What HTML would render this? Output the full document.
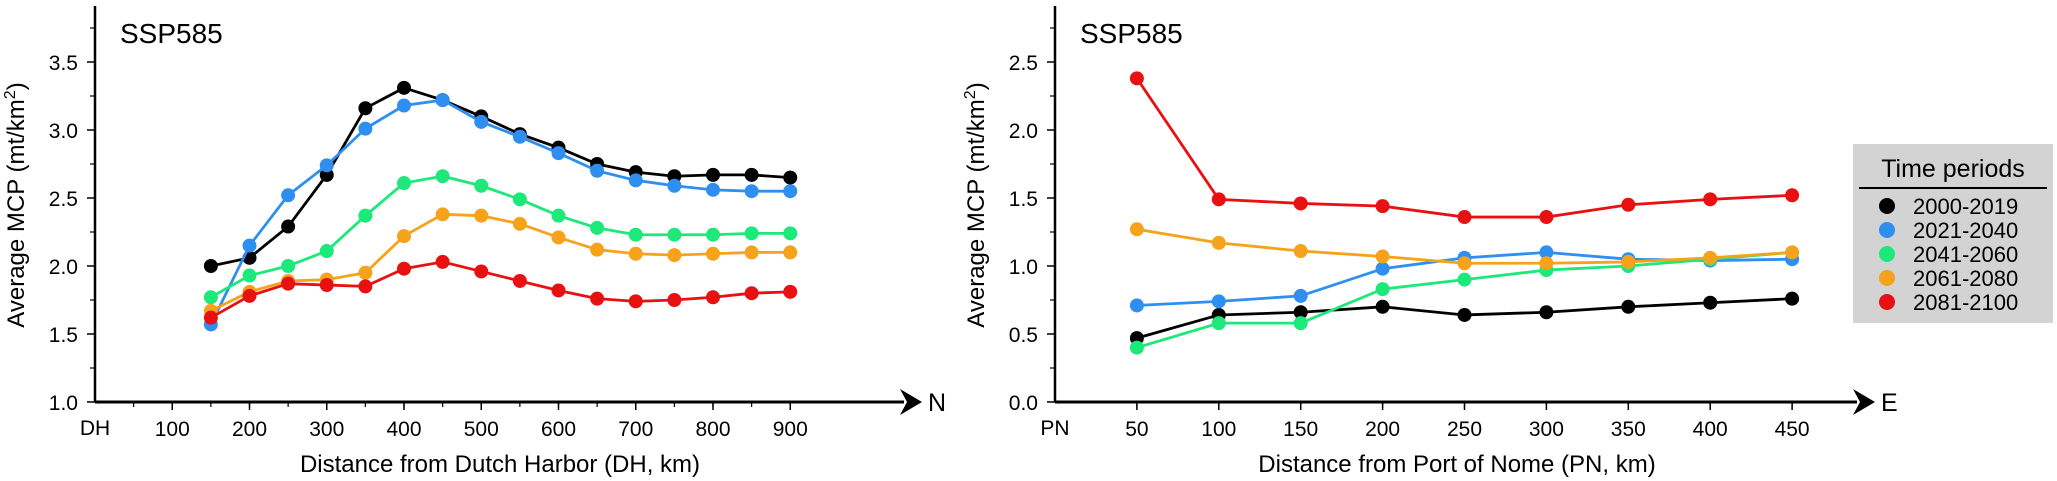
<!DOCTYPE html>
<html><head><meta charset="utf-8"><style>
html,body{margin:0;padding:0;background:#fff;}
svg{display:block;font-family:"Liberation Sans",sans-serif;}
</style></head><body>
<svg id="chart" width="2057" height="481" viewBox="0 0 2057 481"></svg>
<script>
const seriesNames = ["2000-2019","2021-2040","2041-2060","2061-2080","2081-2100"];
const seriesColors = ["#000000","#2e8ff0","#1de87a","#f6a21a","#e81010"];
const leftX = [150,200,250,300,350,400,450,500,550,600,650,700,750,800,850,900];
const left2000 = [2.0,2.06,2.29,2.67,3.16,3.31,3.22,3.1,2.97,2.87,2.75,2.69,2.66,2.67,2.67,2.65];
const left2021 = [1.57,2.15,2.52,2.74,3.01,3.18,3.22,3.06,2.95,2.83,2.70,2.63,2.59,2.56,2.55,2.55];
const left2041 = [1.77,1.93,2.0,2.11,2.37,2.61,2.66,2.59,2.49,2.37,2.28,2.23,2.23,2.23,2.24,2.24];
const left2061 = [1.67,1.81,1.89,1.90,1.95,2.22,2.38,2.37,2.31,2.21,2.12,2.09,2.08,2.09,2.10,2.10];
const left2081 = [1.62,1.78,1.87,1.86,1.85,1.98,2.03,1.96,1.89,1.82,1.76,1.74,1.75,1.77,1.80,1.81];
const leftXTicks = [100,200,300,400,500,600,700,800,900];
const leftYTicks = [1.0,1.5,2.0,2.5,3.0,3.5];
const rightX = [50,100,150,200,250,300,350,400,450];
const right2000 = [0.47,0.64,0.66,0.70,0.64,0.66,0.70,0.73,0.76];
const right2021 = [0.71,0.74,0.78,0.98,1.06,1.10,1.05,1.04,1.05];
const right2041 = [0.40,0.58,0.58,0.83,0.90,0.97,1.00,1.05,1.10];
const right2061 = [1.27,1.17,1.11,1.07,1.02,1.02,1.03,1.06,1.10];
const right2081 = [2.38,1.49,1.46,1.44,1.36,1.36,1.45,1.49,1.52];
const rightXTicks = [50,100,150,200,250,300,350,400,450];
const rightYTicks = [0.0,0.5,1.0,1.5,2.0,2.5];

const NS="http://www.w3.org/2000/svg";
const svg=document.getElementById('chart');
function mk(tag,attrs,parent,text){const e=document.createElementNS(NS,tag);for(const k in attrs)e.setAttribute(k,attrs[k]);if(text!==undefined)e.textContent=text;(parent||svg).appendChild(e);return e;}

function panel(cfg){
  const g=mk('g',{});
  
  
  const sx=v=>cfg.x0+(v-cfg.xmin)*cfg.xs;
  const sy=v=>cfg.y0-(v-cfg.ymin)*cfg.ys;
  const ya=mk('line',{x1:cfg.x0,y1:cfg.y0,x2:cfg.x0,y2:6,stroke:'#000','stroke-width':2.5},g);
  
  const xa=mk('line',{x1:cfg.x0,y1:cfg.y0,x2:cfg.arrowX-18,y2:cfg.y0,stroke:'#000','stroke-width':3},g);
  
  const ar=mk('polygon',{points:`${cfg.arrowX-22},${cfg.y0-13} ${cfg.arrowX},${cfg.y0} ${cfg.arrowX-22},${cfg.y0+13} ${cfg.arrowX-15},${cfg.y0}`,fill:'#000'},g);
  
  const dl=mk('text',{x:cfg.arrowX+6,y:cfg.y0+9,'font-size':25},g,cfg.dir);
  
  cfg.yTicks.forEach((v,i)=>{
    mk('line',{x1:cfg.x0-8,x2:cfg.x0,y1:sy(v),y2:sy(v),stroke:'#000','stroke-width':1.5},g);
    mk('line',{x1:cfg.x0-5,x2:cfg.x0,y1:sy(v+0.25),y2:sy(v+0.25),stroke:'#000','stroke-width':1.2},g);
    const t=mk('text',{x:cfg.x0-17,y:sy(v)+8,'font-size':21,'text-anchor':'end'},g,v.toFixed(1));
    
  });
  for(let v=cfg.minorStep;v<=cfg.xmax;v+=cfg.minorStep){
    mk('line',{x1:sx(v),x2:sx(v),y1:cfg.y0,y2:cfg.y0+5,stroke:'#000','stroke-width':1.2},g);
  }
  cfg.xTicks.forEach(v=>{
    mk('line',{x1:sx(v),x2:sx(v),y1:cfg.y0,y2:cfg.y0+8,stroke:'#000','stroke-width':1.5},g);
    const t=mk('text',{x:sx(v),y:cfg.y0+34,'font-size':21,'text-anchor':'middle'},g,String(v));
    
  });
  const o=mk('text',{x:cfg.x0,y:cfg.y0+33,'font-size':21,'text-anchor':'middle'},g,cfg.origin);
  
  const xt=mk('text',{x:cfg.xTitleX,y:472,'font-size':24,'text-anchor':'middle'},g,cfg.xTitle);
  
  const yt=mk('text',{x:0,y:0,'font-size':24,'text-anchor':'middle',transform:`translate(${cfg.x0-71},${cfg.yTitleY}) rotate(-90)`},g);
  
  yt.appendChild(document.createTextNode('Average MCP (mt/km'));
  mk('tspan',{dy:-9,'font-size':16},yt,'2');
  mk('tspan',{dy:9},yt,')');
  const st=mk('text',{x:cfg.x0+25,y:43,'font-size':28},g,'SSP585');
  
  cfg.series.forEach((arr,si)=>{
    const sg=mk('g',{},g);
    
    
    const pts=arr.map((v,i)=>sx(cfg.xs_vals[i])+','+sy(v)).join(' ');
    mk('polyline',{points:pts,fill:'none',stroke:seriesColors[si],'stroke-width':2.8},sg);
    arr.forEach((v,i)=>{
      const c=mk('circle',{cx:sx(cfg.xs_vals[i]),cy:sy(v),r:7,fill:seriesColors[si]},sg);
      
      
    });
  });
}

panel({name:'left-panel',x0:95,y0:402,xmin:0,xmax:900,xs:0.7725,ymin:1.0,ys:136,arrowX:922,dir:'N',
  yTicks:leftYTicks,xTicks:leftXTicks,minorStep:50,origin:'DH',xTitle:'Distance from Dutch Harbor (DH, km)',xTitleX:500,yTitleY:205,
  xs_vals:leftX,series:[left2000,left2021,left2041,left2061,left2081]});
panel({name:'right-panel',x0:1055,y0:402,xmin:0,xmax:450,xs:1.638,ymin:0.0,ys:136,arrowX:1875,dir:'E',
  yTicks:rightYTicks,xTicks:rightXTicks,minorStep:50,origin:'PN',xTitle:'Distance from Port of Nome (PN, km)',xTitleX:1457,yTitleY:205,
  xs_vals:rightX,series:[right2000,right2021,right2041,right2061,right2081]});

const lg=mk('g',{});


mk('rect',{x:1853,y:144,width:200,height:179,fill:'#d3d3d3'},lg);
const lt=mk('text',{x:1953,y:177,'font-size':25,'text-anchor':'middle'},lg,'Time periods');

mk('line',{x1:1859,x2:2047,y1:188,y2:188,stroke:'#000','stroke-width':2},lg);
seriesNames.forEach((n,i)=>{
  const eg=mk('g',{},lg);
  
  
  const y=206+i*24;
  mk('circle',{cx:1887,cy:y,r:8,fill:seriesColors[i]},eg);
  mk('text',{x:1913,y:y+8,'font-size':22},eg,n);
});
</script>
</body></html>
